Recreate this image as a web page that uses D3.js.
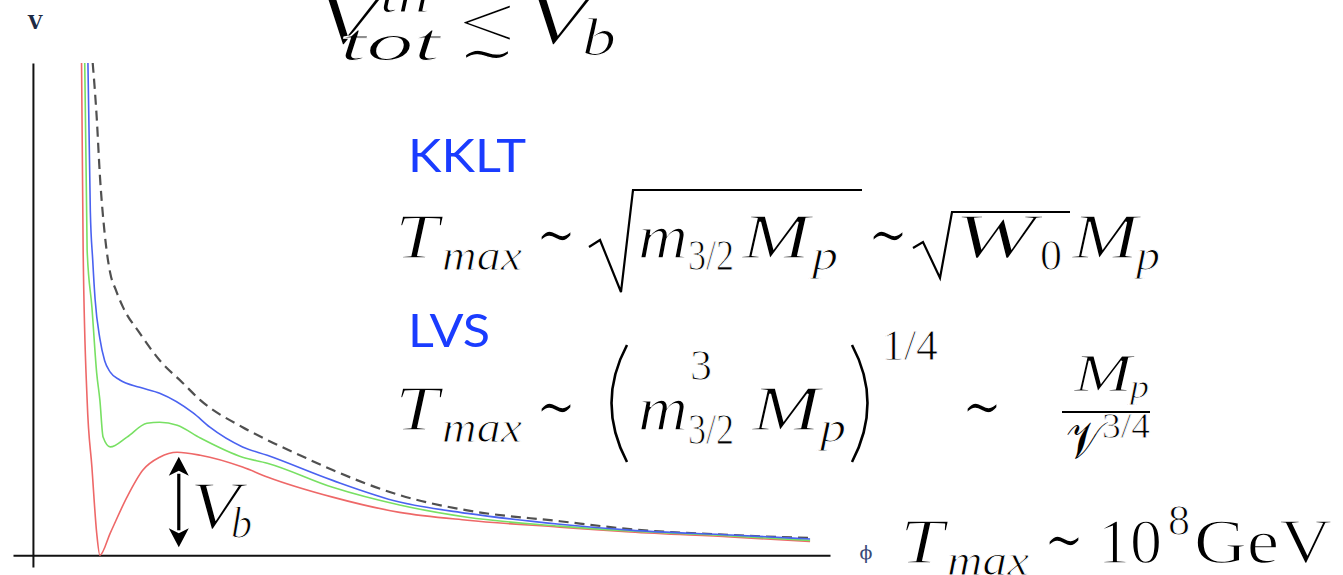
<!DOCTYPE html>
<html>
<head>
<meta charset="utf-8">
<script src="https://cdn.jsdelivr.net/npm/d3@7"></script>
<style>
  html, body { margin: 0; padding: 0; background: #fff; }
  svg { display: block; }
  text.thin { stroke: #fff; paint-order: fill stroke; }
</style>
</head>
<body>
<svg id="chart" width="1343" height="575"></svg>
<script>
// Potential V(phi) for increasing thermal corrections: [phi, V] pairs
const redCurve = [
  [0.61, 10.0], [0.63, 6.20], [0.68, 3.15], [0.74, 1.79], [0.80, 0.45], [0.84, 0.00],
  [0.97, 0.45], [1.18, 1.18], [1.38, 1.73], [1.59, 1.99], [1.81, 2.09], [2.10, 2.03],
  [2.63, 1.79], [2.94, 1.59], [3.76, 1.18], [4.60, 0.87], [5.45, 0.71], [6.61, 0.57],
  [7.49, 0.47], [8.75, 0.37], [9.75, 0.28]
];
const greenCurve = [
  [0.65, 10.0], [0.68, 6.20], [0.74, 5.04], [0.80, 3.70], [0.84, 3.15], [0.88, 2.40],
  [0.97, 2.20], [1.18, 2.40], [1.43, 2.68], [1.59, 2.70], [1.81, 2.64], [2.10, 2.38],
  [2.63, 1.99], [2.94, 1.87], [3.76, 1.38], [4.60, 1.02], [5.45, 0.77], [6.61, 0.59],
  [7.49, 0.49], [8.75, 0.39], [9.75, 0.30]
];
const blueCurve = [
  [0.69, 10.0], [0.72, 7.00], [0.75, 6.00], [0.78, 5.20], [0.84, 4.40], [0.90, 3.95],
  [0.97, 3.72], [1.09, 3.56], [1.34, 3.41], [1.59, 3.29], [2.01, 2.89], [2.22, 2.60],
  [2.63, 2.20], [2.94, 2.03], [3.76, 1.52], [4.60, 1.08], [5.45, 0.85], [6.61, 0.63],
  [7.49, 0.51], [8.75, 0.41], [9.75, 0.33]
];
const dashedCurve = [
  [0.75, 10.0], [0.80, 8.90], [0.84, 7.72], [0.90, 6.54], [0.97, 5.73], [1.04, 5.39],
  [1.13, 5.04], [1.34, 4.51], [1.59, 3.96], [1.88, 3.50], [2.10, 3.15], [2.63, 2.60],
  [2.94, 2.34], [3.35, 2.03], [3.76, 1.73], [4.60, 1.22], [5.45, 0.91], [6.61, 0.69],
  [7.49, 0.53], [8.75, 0.41], [9.75, 0.35]
];

// Barrier height marked by the double arrow: from the axis to the red maximum
const barrierPhi = 1.83;
const barrierV = [0.16, 2.0];

const svg = d3.select("#chart");
const x = d3.scaleLinear().domain([-0.25, 10]).range([13, 830]);
const y = d3.scaleLinear().domain([-0.24, 10]).range([567, 63]);

const MATH = "'Liberation Serif', 'DejaVu Serif', serif";
const SYM = "'DejaVu Serif', 'DejaVu Sans', serif";

// Axes: plain lines without ticks
svg.append("g")
  .attr("transform", `translate(0,${y(0)})`)
  .call(d3.axisBottom(x).ticks(0).tickSizeOuter(0))
  .call(g => g.select(".domain").attr("stroke", "#111").attr("stroke-width", 2));
svg.append("g")
  .attr("transform", `translate(${x(0)},0)`)
  .call(d3.axisLeft(y).ticks(0).tickSizeOuter(0))
  .call(g => g.select(".domain").attr("stroke", "#111").attr("stroke-width", 2));

const line = d3.line().x(d => x(d[0])).y(d => y(d[1])).curve(d3.curveMonotoneX);

const series = [
  { data: dashedCurve, color: "#505050", width: 2.2, dash: "10,6" },
  { data: redCurve, color: "#ee6868", width: 1.6, dash: null },
  { data: greenCurve, color: "#78e063", width: 1.6, dash: null },
  { data: blueCurve, color: "#4a62f0", width: 1.6, dash: null }
];
svg.append("g").selectAll("path").data(series).join("path")
  .attr("d", d => line(d.data))
  .attr("fill", "none")
  .attr("stroke", d => d.color)
  .attr("stroke-width", d => d.width)
  .attr("stroke-dasharray", d => d.dash);

// Double-headed arrow for the barrier V_b
const ax = x(barrierPhi), ay0 = y(barrierV[0]), ay1 = y(barrierV[1]);
const head = 19, hw = 10;
const arrow = svg.append("g").attr("fill", "#000");
arrow.append("line").attr("x1", ax).attr("x2", ax).attr("y1", ay1 + head - 2).attr("y2", ay0 - head + 2)
  .attr("stroke", "#000").attr("stroke-width", 3.2);
arrow.append("path").attr("d", `M${ax},${ay1} L${ax - hw},${ay1 + head} L${ax},${ay1 + head - 5} L${ax + hw},${ay1 + head} Z`);
arrow.append("path").attr("d", `M${ax},${ay0} L${ax - hw},${ay0 - head} L${ax},${ay0 - head + 5} L${ax + hw},${ay0 - head} Z`);

// text helper; "thin" draws a white outline over the glyph edges for a lighter stroke
function txt(str, px, py, size, opts = {}) {
  const t = svg.append("text")
    .attr("x", px).attr("y", py)
    .attr("font-size", size)
    .attr("font-family", opts.family || MATH)
    .attr("font-style", opts.italic === false ? "normal" : "italic")
    .attr("font-weight", opts.weight || "normal")
    .attr("fill", opts.fill || "#000")
    .text(str);
  if (opts.thin !== 0) t.attr("class", "thin").attr("stroke-width", opts.thin || size / 45);
  if (opts.len) t.attr("textLength", opts.len).attr("lengthAdjust", "spacingAndGlyphs");
  if (opts.anchor) t.attr("text-anchor", opts.anchor);
  return t;
}

// axis labels
txt("V", 35, 29, 19, { italic: false, weight: "bold", family: "'DejaVu Serif', serif", fill: "#1d2a44", anchor: "middle", thin: 0 });
txt("\u03d5", 866, 559, 19, { italic: false, family: "'DejaVu Serif', serif", fill: "#3a4a78", anchor: "middle", thin: 0 });

// V_b beside the arrow
txt("V", 190, 528, 68, { len: 50 });
txt("b", 231, 538, 44, { len: 21 });

// Title: V_tot^th ≲ V_b
txt("V", 314, 44, 76, { len: 66 });
txt("th", 380, 12, 52, { len: 50 });
txt("tot", 340, 60, 52, { len: 100 });
txt("<", 458, 48, 76, { italic: false, len: 58 });
txt("\u223c", 458, 72, 56, { italic: false, family: SYM, len: 58 });
txt("V", 524, 44, 76, { len: 66 });
txt("b", 582, 55, 52, { len: 34 });

// Scenario labels
txt("KKLT", 408, 172, 46, { italic: false, family: "Lato, 'Open Sans', sans-serif", fill: "#1a3cff", len: 118, thin: 0 });
txt("LVS", 408, 347, 46, { italic: false, family: "Lato, 'Open Sans', sans-serif", fill: "#1a3cff", len: 82, thin: 0 });

// KKLT: T_max ~ sqrt(m_{3/2} M_p) ~ sqrt(W_0) M_p
{
  const b = 258, s = 64, ss = 44;
  txt("T", 395, b, s, { len: 44 });
  txt("max", 442, b + 12, ss, { len: 80 });
  txt("\u223c", 536, b - 2, s, { italic: false, family: SYM, len: 40 });
  svg.append("path")
    .attr("d", "M589,247 L600,240 L621,292 L633,190 L862,190")
    .attr("fill", "none").attr("stroke", "#000").attr("stroke-width", 2.2).attr("stroke-linejoin", "miter");
  txt("m", 638, b, s, { len: 50 });
  txt("3/2", 688, b + 12, ss, { italic: false, len: 46 });
  txt("M", 742, b, s, { len: 68 });
  txt("p", 812, b + 12, ss, { len: 26 });
  txt("\u223c", 868, b - 2, s, { italic: false, family: SYM, len: 40 });
  svg.append("path")
    .attr("d", "M913,248 L923,242 L940,278 L952,212 L1070,212")
    .attr("fill", "none").attr("stroke", "#000").attr("stroke-width", 2.2);
  txt("W", 954, b, s, { len: 82 });
  txt("0", 1040, b + 12, ss, { italic: false, len: 22 });
  txt("M", 1072, b, s, { len: 66 });
  txt("p", 1136, b + 12, ss, { len: 24 });
}

// LVS: T_max ~ (m^3_{3/2} M_p)^{1/4} ~ M_p / V^{3/4}
{
  const b = 430, s = 64, ss = 44;
  txt("T", 395, b, s, { len: 44 });
  txt("max", 442, b + 12, ss, { len: 80 });
  txt("\u223c", 536, b - 2, s, { italic: false, family: SYM, len: 40 });
  svg.append("path").attr("d", "M627,345 Q596,403 627,462")
    .attr("fill", "none").attr("stroke", "#000").attr("stroke-width", 2.6);
  txt("m", 638, b, s, { len: 50 });
  txt("3", 690, b - 50, ss, { italic: false, len: 22 });
  txt("3/2", 688, b + 14, ss, { italic: false, len: 46 });
  txt("M", 752, b, s, { len: 68 });
  txt("p", 820, b + 12, ss, { len: 26 });
  svg.append("path").attr("d", "M852,345 Q883,403 852,462")
    .attr("fill", "none").attr("stroke", "#000").attr("stroke-width", 2.6);
  txt("1/4", 882, b - 70, ss, { italic: false, len: 56 });
  txt("\u223c", 962, b - 2, s, { italic: false, family: SYM, len: 40 });
  txt("M", 1074, 391, 52, { len: 58 });
  txt("p", 1130, 398, 34, { len: 19 });
  svg.append("line").attr("x1", 1062).attr("x2", 1150).attr("y1", 412).attr("y2", 412)
    .attr("stroke", "#000").attr("stroke-width", 2.2);
  txt("\ud835\udcb1", 1066, 458, 52, { italic: false, family: "'DejaVu Sans', 'DejaVu Serif', serif", len: 36, thin: 0 });
  txt("3/4", 1102, 438, 36, { italic: false, len: 48 });
}

// T_max ~ 10^8 GeV
{
  const b = 563, s = 64, ss = 44;
  txt("T", 900, b, s, { len: 44 });
  txt("max", 947, b + 12, ss, { len: 82 });
  txt("\u223c", 1044, b - 2, s, { italic: false, family: SYM, len: 40 });
  txt("10", 1098, b, s, { italic: false, len: 64 });
  txt("8", 1168, b - 28, ss, { italic: false, len: 22 });
  txt("GeV", 1194, b, s, { italic: false, len: 138 });
}
</script>
</body>
</html>
